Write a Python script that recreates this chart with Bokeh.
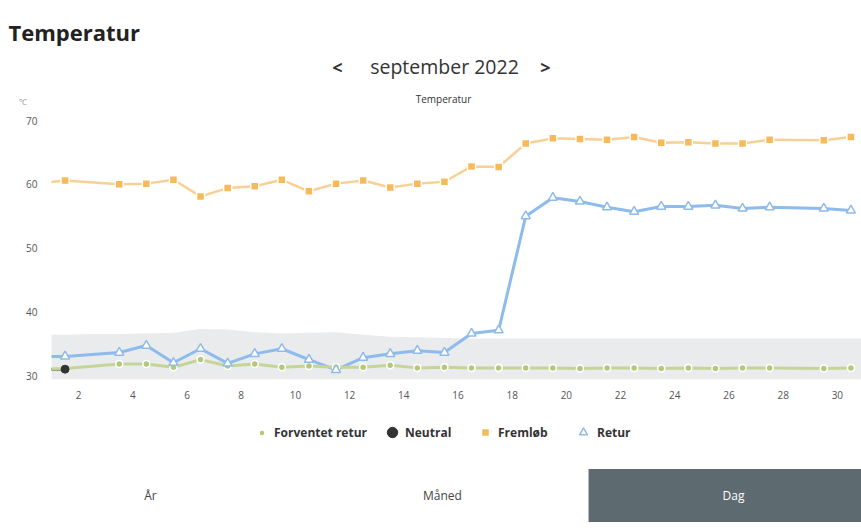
import numpy as np
from bokeh.plotting import figure
from bokeh.layouts import column
from bokeh.models import Range1d, FixedTicker, Label, Legend, LegendItem
from bokeh.embed import file_html
from bokeh.resources import INLINE

# Day of September 2022 for each daily (noon) reading; 0 = 31 August.
# No readings on the 2nd and the 28th.
day = [0, 1, 3, 4, 5, 6, 7, 8, 9, 10, 11, 12, 13, 14, 15, 16, 17, 18, 19, 20,
       21, 22, 23, 24, 25, 26, 27, 29, 30]
fremlob = [60.1, 60.6, 60.0, 60.1, 60.7, 58.1, 59.4, 59.7, 60.7, 58.9,
           60.1, 60.6, 59.5, 60.1, 60.4, 62.8, 62.7, 66.4, 67.2, 67.1,
           67.0, 67.4, 66.5, 66.6, 66.4, 66.4, 67.0, 66.9, 67.4]
retur = [33.0, 33.0, 33.6, 34.7, 32.0, 34.2, 31.9, 33.4, 34.2, 32.5,
         30.9, 32.8, 33.4, 33.9, 33.6, 36.6, 37.1, 55.0, 57.9, 57.3,
         56.4, 55.7, 56.5, 56.5, 56.7, 56.2, 56.4, 56.2, 55.9]
forventet_retur = [31.0, 31.1, 31.8, 31.8, 31.3, 32.5, 31.5, 31.8, 31.3, 31.5,
                   31.3, 31.3, 31.6, 31.2, 31.3, 31.2, 31.2, 31.2, 31.2, 31.1,
                   31.2, 31.2, 31.1, 31.2, 31.1, 31.2, 31.2, 31.1, 31.2]
neutral_day = [0, 1]
neutral = [31.0, 31.0]

# grey expected-range band
band_day = list(range(0, 32))
band_top = [36.4, 36.4, 36.5, 36.5, 36.6, 36.7, 37.3, 37.2, 36.8, 36.6, 36.7, 36.8,
            36.4, 36.1, 36.0, 35.9, 35.8, 35.8, 35.8, 35.8, 35.8, 35.8, 35.8, 35.8,
            35.8, 35.8, 35.8, 35.8, 35.8, 35.8, 35.8, 35.8]
band_bottom = 29.4

x_ticks = [2, 4, 6, 8, 10, 12, 14, 16, 18, 20, 22, 24, 26, 28, 30]
y_ticks = [30, 40, 50, 60, 70]

title_text = "Temperatur"
month_text = "september 2022"
chart_title = "Temperatur"
unit_text = "\u2103"
legend_labels = ["Forventet retur", "Neutral", "Fremløb", "Retur"]
buttons = ["År", "Måned", "Dag"]

FONT = "Open Sans"
W = 861

C_FREM_LINE, C_FREM = "#f9d093", "#f7ba5a"
C_RET_LINE, C_RET = "#8cbbec", "#8fbbe9"
C_FORV_LINE, C_FORV = "#c6d597", "#b5c67f"
C_NEUT = "#333333"


def blank(height, y_top):
    """A figure whose frame fills the canvas; data units = page pixels."""
    f = figure(width=W, height=height, x_range=Range1d(0, W),
               y_range=Range1d(y_top + height, y_top),
               output_backend="svg", toolbar_location=None,
               x_axis_location=None, y_axis_location=None,
               min_border=0, min_border_left=0, min_border_right=0,
               min_border_top=0, min_border_bottom=0)
    f.outline_line_color = None
    f.xgrid.grid_line_color = None
    f.ygrid.grid_line_color = None
    return f


def lab(f, text, px, py, size, color="#333333", style="normal", align="center", **kw):
    l = Label(x=px, y=py, text=text, text_font=FONT, text_font_size=size,
              text_color=color, text_font_style=style, text_align=align,
              text_baseline="middle", **kw)
    f.add_layout(l)
    return l


# ---------------- header ----------------
head = blank(110, 0)
lab(head, title_text, 8, 31, "22px", color="#222222", style="bold", align="left")
lab(head, "<", 337, 66, "18px", style="bold")
lab(head, month_text, 444, 66, "19.5px")
lab(head, ">", 545, 66, "18px", style="bold")
lab(head, chart_title, 443, 98, "10px")
lab(head, unit_text, 22, 101, "8px", color="#999999")

# ---------------- chart ----------------
x = np.array(day) + 0.5
xn = np.array(neutral_day) + 0.5
xb = np.array(band_day) + 0.5

p = figure(width=W, height=300,
           x_range=Range1d(1.0, 30.89), y_range=Range1d(29.22, 71.57),
           output_backend="svg", toolbar_location=None,
           min_border_left=51, min_border_right=0,
           min_border_top=0, min_border_bottom=30)
p.outline_line_color = None
p.xgrid.grid_line_color = None
p.ygrid.grid_line_color = None

for ax in (p.xaxis[0], p.yaxis[0]):
    ax.axis_line_color = None
    ax.major_tick_line_color = None
    ax.minor_tick_line_color = None
    ax.major_tick_out = 0
    ax.major_tick_in = 0
    ax.major_label_text_font = FONT
    ax.major_label_text_font_size = "10px"
    ax.major_label_text_color = "#555555"
p.xaxis.ticker = FixedTicker(ticks=x_ticks)
p.yaxis.ticker = FixedTicker(ticks=y_ticks)
p.xaxis.major_label_standoff = 10
p.yaxis.major_label_standoff = 14

p.varea(x=xb, y1=band_bottom, y2=band_top, fill_color="#e4e6e8", fill_alpha=0.8)

p.line(x, fremlob, line_color=C_FREM_LINE, line_width=2.5)
p.line(x, retur, line_color=C_RET_LINE, line_width=3)
p.line(xn, neutral, line_color=C_NEUT, line_width=2.5)
p.line(x, forventet_retur, line_color=C_FORV_LINE, line_width=3)

frem_style = dict(marker="square", fill_color=C_FREM, line_color="white", line_width=1.5)
forv_style = dict(marker="circle", fill_color=C_FORV, line_color="white", line_width=1.5)
neut_style = dict(marker="circle", fill_color=C_NEUT, line_color=C_NEUT, line_width=1)
ret_style = dict(marker="triangle", fill_color="white", line_color=C_RET, line_width=1.5)

p.scatter(x, fremlob, size=8, **frem_style)
p.scatter(x, forventet_retur, size=7, **forv_style)
p.scatter(xn, neutral, size=8, **neut_style)
p.scatter(x, retur, size=9, **ret_style)

# ---------------- footer (legend + buttons) ----------------
FOOT_TOP = 410
foot = blank(120, FOOT_TOP)

legend_specs = [
    (legend_labels[0], forventet_retur, forv_style, 15, 254, 5),
    (legend_labels[1], neutral, neut_style, 26, 379, 0),
    (legend_labels[2], fremlob, frem_style, 20, 475, 3),
    (legend_labels[3], retur, ret_style, 20, 573, 4),
]
for text, series, style, glyph, left_px, gap in legend_specs:
    # legend key renderer: the series' first reading, which lies outside this
    # footer's view (its y range is 410..530 page px), so only the key shows
    r = foot.scatter([day[0]], [series[0]], **style)
    h = max(glyph, 17)
    bottom_page = 432 + h / 2
    lg = Legend(items=[LegendItem(label=text, renderers=[r], index=0)],
                location=(left_px, FOOT_TOP + 120 - bottom_page),
                orientation="horizontal", padding=0, margin=0, spacing=0,
                glyph_width=glyph, glyph_height=glyph, label_standoff=gap,
                background_fill_alpha=0, border_line_color=None,
                label_text_font=FONT, label_text_font_size="12px",
                label_text_font_style="bold", label_text_color="#333333")
    foot.add_layout(lg, "center")

lab(foot, buttons[0], 150, 495, "12px", color="#444444")
lab(foot, buttons[1], 442, 495, "12px", color="#444444")
lab(foot, buttons[2], 733, 495, "12px", color="white",
    background_fill_color="#5d6a70", padding=(134, 18))

page = column(column(head), p, column(foot), spacing=0)
html = file_html(page, INLINE)
open("out.html", "w").write(html)
